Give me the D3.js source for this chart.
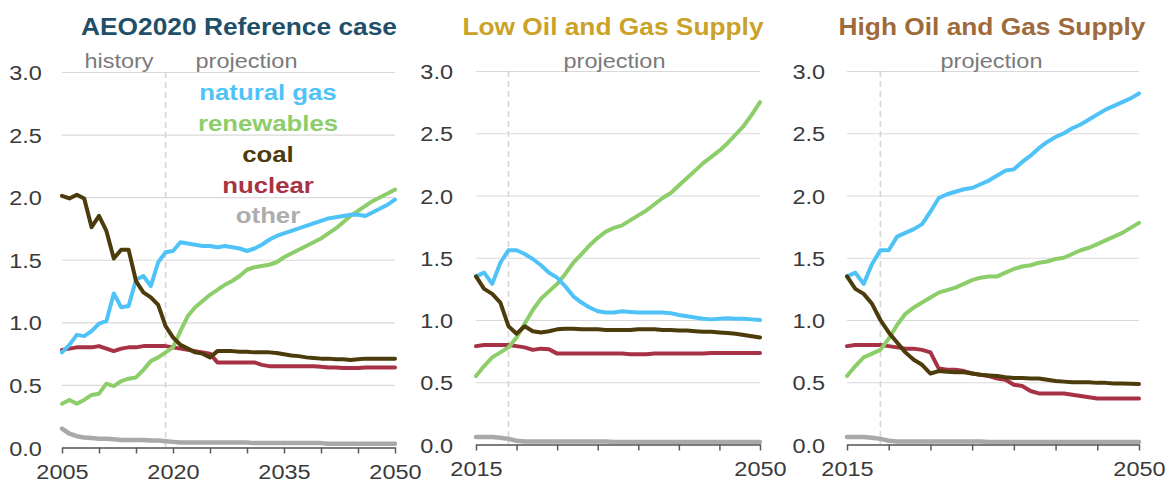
<!DOCTYPE html>
<html><head><meta charset="utf-8">
<script src="https://cdn.jsdelivr.net/npm/d3@7"></script>
<style>html,body{margin:0;padding:0;background:#fff;} svg{display:block;}</style>
</head><body>
<svg id="chart" width="1174" height="485"></svg>
<script>
// ---------- DATA (trillion kWh) ----------
const refYears = d3.range(2005, 2051);
const altYears = d3.range(2015, 2051);

const refGas = [0.76,0.82,0.90,0.89,0.93,0.99,1.01,1.23,1.12,1.13,
  1.34,1.37,1.29,1.48,1.56,1.57,1.64,1.63,1.62,1.61,
  1.61,1.60,1.61,1.60,1.59,1.57,1.59,1.62,1.66,1.69,
  1.71,1.73,1.75,1.77,1.79,1.81,1.83,1.84,1.85,1.86,
  1.86,1.85,1.88,1.91,1.94,1.98];
const refRenew = [0.35,0.38,0.35,0.38,0.42,0.43,0.51,0.49,0.53,0.55,
  0.56,0.62,0.69,0.72,0.76,0.80,0.93,1.05,1.12,1.17,
  1.22,1.26,1.30,1.33,1.37,1.42,1.44,1.45,1.46,1.48,
  1.52,1.55,1.58,1.61,1.64,1.67,1.71,1.75,1.80,1.85,
  1.89,1.93,1.97,2.00,2.03,2.06];
const refCoal = [2.01,1.99,2.02,1.99,1.76,1.85,1.73,1.51,1.58,1.58,
  1.33,1.24,1.20,1.14,0.97,0.88,0.82,0.79,0.76,0.75,
  0.72,0.77,0.77,0.77,0.765,0.765,0.76,0.76,0.76,0.755,
  0.745,0.735,0.73,0.72,0.715,0.71,0.71,0.705,0.705,0.70,
  0.705,0.71,0.71,0.71,0.71,0.71];
const refNuclear = [0.78,0.79,0.80,0.80,0.80,0.81,0.79,0.77,0.79,0.80,
  0.80,0.81,0.81,0.81,0.81,0.80,0.79,0.78,0.77,0.76,
  0.75,0.68,0.68,0.68,0.68,0.68,0.68,0.66,0.65,0.65,
  0.65,0.65,0.65,0.65,0.65,0.645,0.64,0.64,0.635,0.635,
  0.635,0.64,0.64,0.64,0.64,0.64];
const refOther = [0.15,0.11,0.09,0.08,0.075,0.07,0.07,0.065,0.06,0.06,
  0.06,0.06,0.055,0.055,0.05,0.045,0.04,0.04,0.04,0.04,
  0.04,0.04,0.04,0.04,0.04,0.04,0.035,0.035,0.035,0.035,
  0.035,0.035,0.035,0.035,0.035,0.035,0.03,0.03,0.03,0.03,
  0.03,0.03,0.03,0.03,0.03,0.03];

const lowGas = [1.35,1.38,1.29,1.46,1.56,1.56,1.53,1.49,1.44,1.38,
  1.34,1.27,1.19,1.14,1.10,1.07,1.06,1.06,1.07,1.065,
  1.06,1.06,1.06,1.06,1.055,1.04,1.03,1.02,1.01,1.005,
  1.01,1.015,1.01,1.01,1.005,1.00];
const lowRenew = [0.55,0.63,0.70,0.74,0.78,0.86,0.97,1.08,1.17,1.23,
  1.29,1.37,1.46,1.53,1.60,1.66,1.71,1.74,1.76,1.80,
  1.84,1.88,1.93,1.98,2.02,2.08,2.14,2.20,2.26,2.31,
  2.36,2.42,2.49,2.56,2.65,2.75];
const lowCoal = [1.35,1.25,1.21,1.14,0.95,0.89,0.95,0.91,0.90,0.91,
  0.925,0.93,0.93,0.925,0.925,0.925,0.92,0.92,0.92,0.92,
  0.925,0.925,0.925,0.92,0.92,0.915,0.915,0.91,0.905,0.905,
  0.90,0.895,0.89,0.88,0.87,0.86];
const lowNuclear = [0.79,0.80,0.80,0.80,0.80,0.79,0.78,0.76,0.77,0.765,
  0.73,0.73,0.73,0.73,0.73,0.73,0.73,0.73,0.73,0.725,
  0.725,0.725,0.73,0.73,0.73,0.73,0.73,0.73,0.73,0.735,
  0.735,0.735,0.735,0.735,0.735,0.735];
const lowOther = [0.06,0.06,0.06,0.055,0.045,0.03,0.025,0.025,0.025,0.025,
  0.025,0.025,0.025,0.025,0.025,0.025,0.025,0.02,0.02,0.02,
  0.02,0.02,0.02,0.02,0.02,0.02,0.02,0.02,0.02,0.02,
  0.02,0.02,0.02,0.02,0.02,0.02];

const highGas = [1.35,1.38,1.29,1.45,1.56,1.56,1.67,1.70,1.73,1.77,
  1.87,1.98,2.01,2.03,2.05,2.06,2.09,2.12,2.16,2.20,
  2.21,2.27,2.32,2.38,2.43,2.47,2.50,2.54,2.57,2.61,
  2.65,2.69,2.72,2.75,2.78,2.82];
const highRenew = [0.55,0.63,0.70,0.73,0.76,0.85,0.96,1.05,1.10,1.14,
  1.18,1.22,1.24,1.26,1.29,1.32,1.34,1.35,1.35,1.38,
  1.41,1.43,1.44,1.46,1.47,1.49,1.50,1.53,1.56,1.58,
  1.61,1.64,1.67,1.70,1.74,1.78];
const highCoal = [1.35,1.25,1.21,1.13,1.00,0.90,0.82,0.74,0.68,0.64,
  0.57,0.59,0.585,0.58,0.58,0.57,0.56,0.555,0.55,0.54,
  0.535,0.535,0.53,0.53,0.52,0.51,0.505,0.50,0.50,0.50,
  0.495,0.495,0.49,0.49,0.488,0.486];
const highNuclear = [0.79,0.80,0.80,0.80,0.80,0.79,0.78,0.77,0.77,0.76,
  0.74,0.61,0.60,0.60,0.59,0.57,0.56,0.55,0.53,0.52,
  0.48,0.47,0.43,0.41,0.41,0.41,0.41,0.40,0.39,0.38,
  0.37,0.37,0.37,0.37,0.37,0.37];
const highOther = [0.06,0.06,0.06,0.055,0.045,0.03,0.025,0.025,0.025,0.025,
  0.025,0.025,0.025,0.025,0.025,0.025,0.025,0.02,0.02,0.02,
  0.02,0.02,0.02,0.02,0.02,0.02,0.02,0.02,0.02,0.02,
  0.02,0.02,0.02,0.02,0.02,0.02];

const yTicks = [0, 0.5, 1.0, 1.5, 2.0, 2.5, 3.0];
const refXLabels = [2005, 2020, 2035, 2050];
const altXLabels = [2015, 2050];
const legendNames = ["natural gas", "renewables", "coal", "nuclear", "other"];
const panelTitles = ["AEO2020 Reference case", "Low Oil and Gas Supply", "High Oil and Gas Supply"];
const historyYear = 2019;

// ---------- STYLE ----------
const FONT = "'Liberation Sans', Arial, sans-serif";
const SX = 1.12; // horizontal text stretch of the original
const colors = {other:"#a9a9a9", nuclear:"#a83245", renew:"#8dcd6a", gas:"#4fc3f7", coal:"#4c3b0b"};
const legendColors = ["#4fc3f7", "#8dcd6a", "#4c3b0b", "#a83245", "#adadad"];

const svg = d3.select("#chart");

function stext(g, x, y, str, o) {
  return g.append("text")
    .attr("transform", `translate(${x},${y}) scale(${SX},1)`)
    .attr("text-anchor", o.anchor || "middle")
    .style("font-family", FONT)
    .style("font-size", o.size + "px")
    .style("font-weight", o.weight || "normal")
    .style("fill", o.fill)
    .text(str);
}

const panels = [
  {title: panelTitles[0], titleColor: "#1f4f69", titleX: 239, years: refYears, domain: [2005, 2050],
   x0: 62, x1: 395, yTop: 72, yBot: 447.5, labels: refXLabels, yPad: 18,
   series: {other: refOther, nuclear: refNuclear, renew: refRenew, gas: refGas, coal: refCoal},
   notes: [["history", 119], ["projection", 246.5]], legend: true},
  {title: panelTitles[1], titleColor: "#c9a227", titleX: 613, years: altYears, domain: [2015, 2050],
   x0: 476, x1: 760, yTop: 71, yBot: 444.5, labels: altXLabels, yPad: 20.5,
   series: {other: lowOther, nuclear: lowNuclear, renew: lowRenew, gas: lowGas, coal: lowCoal},
   notes: [["projection", 614.5]]},
  {title: panelTitles[2], titleColor: "#9e6a3b", titleX: 992, years: altYears, domain: [2015, 2050],
   x0: 847, x1: 1139, yTop: 71, yBot: 444.5, labels: altXLabels, yPad: 19.5,
   series: {other: highOther, nuclear: highNuclear, renew: highRenew, gas: highGas, coal: highCoal},
   notes: [["projection", 991.5]]}
];

panels.forEach(p => {
  const x = d3.scaleLinear().domain(p.domain).range([p.x0, p.x1]);
  const y = d3.scaleLinear().domain([0, 3]).range([p.yBot, p.yTop]);
  const g = svg.append("g");

  // gridlines + y labels
  const ya = g.append("g").attr("transform", `translate(${p.x0},0)`)
    .call(d3.axisLeft(y).tickValues(yTicks).tickFormat(d3.format(".1f"))
      .tickSize(-(p.x1 - p.x0)).tickPadding(p.yPad));
  ya.select(".domain").remove();
  ya.selectAll(".tick line").attr("stroke", "#d9d9d9").attr("stroke-width", 1.2);
  ya.selectAll(".tick text")
    .attr("transform", `scale(${SX},1)`).attr("dy", "0.36em")
    .style("font-family", FONT).style("font-size", "21px").style("fill", "#3a3a3a");

  // dashed history/projection divider
  g.append("line")
    .attr("x1", x(historyYear)).attr("x2", x(historyYear))
    .attr("y1", y(3)).attr("y2", y(0))
    .attr("stroke", "#d6d6d6").attr("stroke-width", 1.6).attr("stroke-dasharray", "6,4");

  // lines
  const line = d3.line().x((d, i) => x(p.years[i])).y(d => y(d));
  ["other", "nuclear", "renew", "gas", "coal"].forEach(k => {
    g.append("path").datum(p.series[k])
      .attr("d", line).attr("fill", "none")
      .attr("stroke", colors[k]).attr("stroke-width", k === "other" ? 4.5 : 4)
      .attr("stroke-linejoin", "round").attr("stroke-linecap", "round");
  });

  // x axis
  const xa = g.append("g").attr("transform", `translate(0,${p.yBot})`)
    .call(d3.axisBottom(x).tickValues(d3.range(p.domain[0], p.domain[1] + 1, 5))
      .tickFormat(d => p.labels.includes(d) ? String(d) : "")
      .tickSize(6).tickSizeOuter(0).tickPadding(11));
  xa.select(".domain").attr("stroke", "#595959").attr("stroke-width", 1.5);
  xa.selectAll(".tick line").attr("stroke", "#595959").attr("stroke-width", 1.5);
  xa.selectAll(".tick text")
    .attr("transform", `scale(${SX},1)`)
    .style("font-family", FONT).style("font-size", "21px").style("fill", "#3a3a3a");

  // title
  stext(svg, p.titleX, 35, p.title, {size: 23.5, weight: "bold", fill: p.titleColor});
  // history / projection notes
  p.notes.forEach(n => stext(svg, n[1], 68, n[0], {size: 21, fill: "#7a7a7a"}));

  if (p.legend) {
    const baselines = [100, 130.5, 161.5, 192.5, 222.5];
    legendNames.forEach((name, i) =>
      stext(svg, 268, baselines[i], name, {size: 23, weight: "bold", fill: legendColors[i]}));
  }
});
</script>
</body></html>
